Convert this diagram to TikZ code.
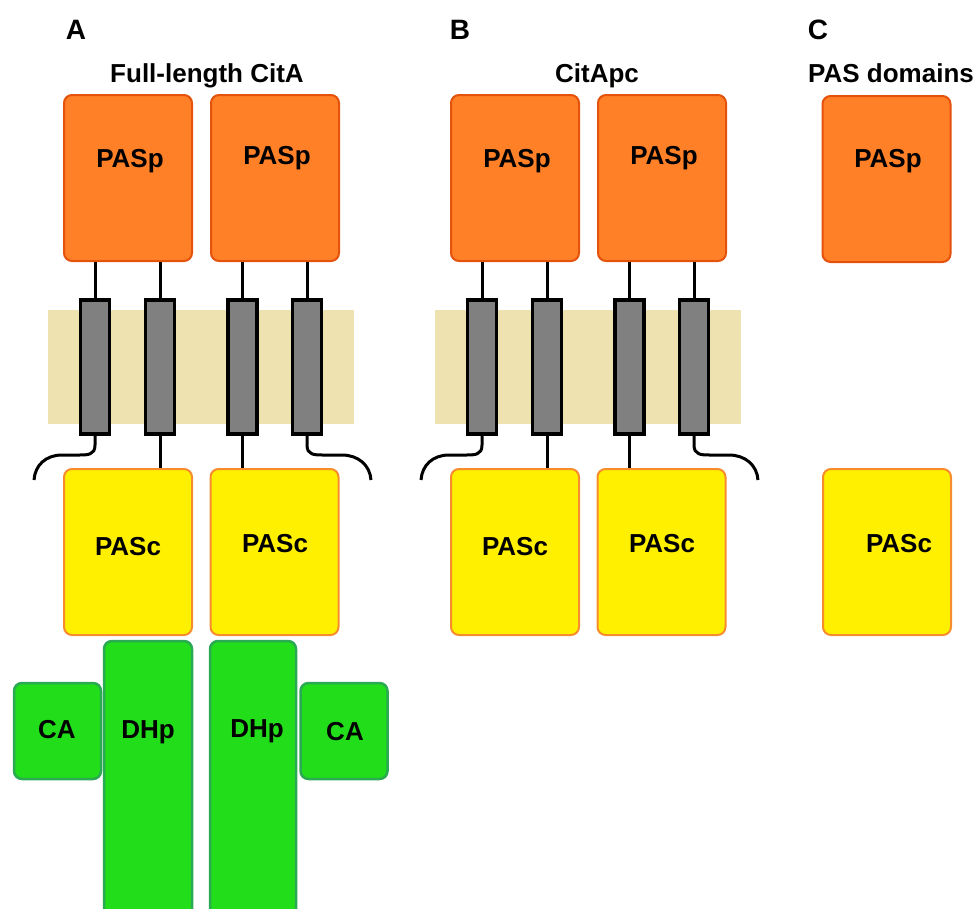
\documentclass[tikz,border=0pt]{standalone}
\usepackage{fontspec}
\setmainfont{Liberation Sans}
\usetikzlibrary{calc}
\definecolor{paspfill}{RGB}{255,128,39}
\definecolor{paspline}{RGB}{228,82,12}
\definecolor{pascfill}{RGB}{255,240,0}
\definecolor{pascline}{RGB}{247,140,45}
\definecolor{kinfill}{RGB}{34,221,26}
\definecolor{kinline}{RGB}{42,170,82}
\definecolor{membrane}{RGB}{238,226,176}
\definecolor{helixfill}{RGB}{128,128,128}
\tikzstyle{boxdomain}=[draw,line width=2pt,rounded corners=8pt,inner sep=0pt]
\tikzstyle{pasp}=[boxdomain,fill=paspfill,draw=paspline,minimum width=128pt,minimum height=166pt]
\tikzstyle{pasc}=[boxdomain,fill=pascfill,draw=pascline,minimum width=128pt,minimum height=166pt]
\tikzstyle{kinase}=[boxdomain,fill=kinfill,draw=kinline,line width=2.5pt]
\tikzstyle{helix}=[draw=black,fill=helixfill,line width=3.5pt,minimum width=29pt,minimum height=134pt,inner sep=0pt]
\tikzstyle{linker}=[line width=3pt]
\tikzstyle{dlabel}=[font=\fontsize{26}{31}\selectfont\bfseries,anchor=base,inner sep=0pt]
\tikzstyle{heading}=[font=\fontsize{26}{31}\selectfont\bfseries,anchor=base,inner sep=0pt]
\tikzstyle{panellabel}=[font=\fontsize{28}{33}\selectfont\bfseries,inner sep=0pt]
\newcommand{\drawreceptor}[2]{
% #1 = name prefix, #2 = x offset of the panel
\begin{scope}[xshift=#2pt]
\fill[membrane] (48,310) rectangle (354,424);
\node[pasp] (#1pasp1) at (128,178) {};
\node[pasp] (#1pasp2) at (275,178) {};
\node[dlabel] (#1lp1) at (130,167) {PASp};
\node[dlabel] (#1lp2) at (277,164) {PASp};
\node[pasc] (#1pasc1) at (128,552) {};
\node[pasc] (#1pasc2) at (274.5,552) {};
\node[dlabel] (#1lc1) at (128,555) {PASc};
\node[dlabel] (#1lc2) at (275,552) {PASc};
    \foreach \i/\x in {1/95,2/160,3/242.5,4/307} {
      \node[helix] (#1tm\i) at (\x,367) {};
    }
\draw[linker] (#1tm1.north) -- (#1tm1.north |- #1pasp1.south);
\draw[linker] (#1tm2.north) -- (#1tm2.north |- #1pasp1.south);
\draw[linker] (#1tm3.north) -- (#1tm3.north |- #1pasp2.south);
\draw[linker] (#1tm4.north) -- (#1tm4.north |- #1pasp2.south);
\draw[linker] (#1tm2.south) -- (#1tm2.south |- #1pasc1.north);
\draw[linker] (#1tm3.south) -- (#1tm3.south |- #1pasc2.north);
% cytoplasmic tails
\coordinate (#1end1) at (34,480);
\coordinate (#1end4) at (371,480);
\draw[linker] (#1tm1.south) -- (95,445) .. controls (95,455) and (88,455) .. (78,455) -- (62,455) .. controls (46,455) and (35,465) .. (#1end1);
\draw[linker] (#1tm4.south) -- (307,445) .. controls (307,455) and (314,455) .. (324,455) -- (342,455) .. controls (358,455) and (370,465) .. (#1end4);
\end{scope}
}

\begin{document}
\begin{tikzpicture}[x=1pt,y=-1pt]
\useasboundingbox (0,0) rectangle (976,908);
\clip (0,0) rectangle (976,908);
	% A: full-length receptor
	\node[panellabel] (panA) at (76,30) {A};
	\node[heading] (headA) at (207,82) {Full-length CitA};
	\drawreceptor{a}{0}
	\node[kinase,minimum width=87pt,minimum height=96pt] (ca1) at (57.5,731) {};
	\node[kinase,minimum width=87pt,minimum height=96pt] (ca2) at (344,731) {};
	\node[kinase,minimum width=88pt,minimum height=290pt] (dhp1) at (148,786) {};
	\node[kinase,minimum width=86pt,minimum height=290pt] (dhp2) at (253,786) {};
	\node[dlabel] (lca1) at (57,738) {CA};
	\node[dlabel] (lca2) at (345,740) {CA};
	\node[dlabel] (ldhp1) at (148,738) {DHp};
	\node[dlabel] (ldhp2) at (257,737) {DHp};
	% B: PAS + TM construct
	\node[panellabel] (panB) at (460,30) {B};
	\node[heading] (headB) at (597,82) {CitApc};
	\drawreceptor{b}{387}
	% C: isolated domains
	\node[panellabel] (panC) at (818,30) {C};
	\node[heading,anchor=base west] (headC) at (808,82) {PAS domains};
	\node[pasp] (cpasp) at (886.5,179) {};
	\node[dlabel] (clp) at (888,167) {PASp};
	\node[pasc] (cpasc) at (887,552) {};
	\node[dlabel] (clc) at (899,552) {PASc};
\end{tikzpicture}
\end{document}
